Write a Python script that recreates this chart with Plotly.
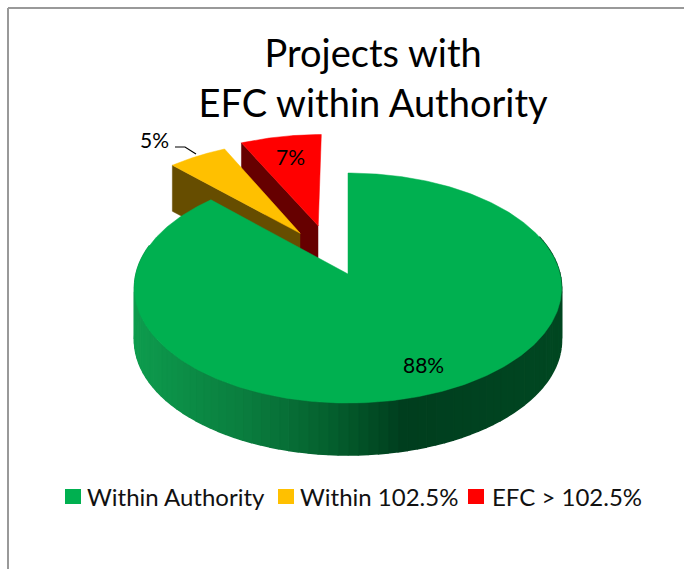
import numpy as np
import plotly.graph_objects as go

categories = ["Within Authority", "Within 102.5%", "EFC > 102.5%"]
shares = [87.6, 5.2, 7.2]
colors = ["#00B050", "#FFC000", "#FF0000"]
side_colors = ["#00451F", "#664D00", "#660000"]
title_lines = ["Projects with", "EFC within Authority"]

FONT = "Lato"
W, H = 684, 569
X0, Y0, A, B, K = 348, 274, 212, 113.3, 0.122
DEPTH = 52
EXPLODE = 0.46
NUDGE_U = {1: 0.03, 2: -0.045}


def project(u, v):
    s = 1 - K * np.asarray(v)
    return X0 + A * np.asarray(u) / s, Y0 + B * np.asarray(v) / s


def ring(t0, t1, explode, n=120, nudge=0.0):
    t = np.radians(np.linspace(t0, t1, n))
    mid = np.radians((t0 + t1) / 2)
    ou, ov = explode * np.sin(mid) + nudge, -explode * np.cos(mid)
    return np.sin(t) + ou, -np.cos(t) + ov, ou, ov


def poly(x, y, color, width=0.5):
    return go.Scatter(x=list(x), y=list(y), mode="lines", fill="toself", fillcolor=color,
                      line=dict(color=color, width=width), hoverinfo="skip", showlegend=False)


angles = np.cumsum([0] + shares) * 3.6
fig = go.Figure()

# exploded slices: red behind orange, main pie last
for i in (2, 1):
    t0, t1 = angles[i], angles[i + 1]
    u, v, ou, ov = ring(t0, t1, EXPLODE, nudge=NUDGE_U[i])
    ax, ay = project(ou, ov)
    x, y = project(u, v)
    # wall under the leading radial edge
    fig.add_trace(poly([ax, x[0], x[0], ax], [ay, y[0], y[0] + DEPTH - 6, ay + DEPTH - 6], side_colors[i]))
    fig.add_trace(poly(np.r_[ax, x, ax], np.r_[ay, y, ay], colors[i]))

# main slice wall as shaded strips
t0, t1 = angles[0], angles[1]
edges = np.linspace(70, 285, 91)
stops_x = [135, 250, 330, 403, 470, 563]
stops_rgb = np.array([[14, 156, 78], [10, 124, 62], [5, 96, 46], [0, 62, 30], [0, 66, 32], [0, 72, 34]])
for a, b in zip(edges[:-1], edges[1:]):
    u, v, _, _ = ring(a, b, 0, n=4)
    x, y = project(u, v)
    rgb = [np.interp(x.mean(), stops_x, stops_rgb[:, c]) for c in range(3)]
    col = "rgb(%d,%d,%d)" % tuple(rgb)
    fig.add_trace(poly(np.r_[x, x[::-1]], np.r_[y, (y + DEPTH)[::-1]], col, 1.5))

u, v, ou, ov = ring(t0, t1, 0, n=400)
x, y = project(u, v)
ax, ay = project(0, 0)
fig.add_trace(poly(np.r_[ax, x, ax], np.r_[ay, y, ay], colors[0]))

# leader line of the 5% label
fig.add_trace(go.Scatter(x=[175, 185, 196], y=[147, 147, 154], mode="lines",
                         line=dict(color="black", width=1.2), hoverinfo="skip", showlegend=False))

annotations = []
for s, (lx, ly) in zip(shares, [(423, 364), (154, 139), (290, 156)]):
    annotations.append(dict(x=lx, y=ly, text=f"{round(s)}%", showarrow=False,
                            font=dict(family=FONT, size=21, color="black")))

# legend row
swatch_x = [65, 278, 468]
text_x = [85, 298, 490]
shapes = [
    dict(type="line", x0=8, x1=W, y0=8, y1=8, line=dict(color="#999999", width=2), layer="below"),
    dict(type="line", x0=8, x1=8, y0=8, y1=H, line=dict(color="#999999", width=2), layer="below"),
]
for n, c, sx, tx in zip(categories, colors, swatch_x, text_x):
    shapes.append(dict(type="rect", x0=sx, x1=sx + 16, y0=489, y1=504, fillcolor=c, line=dict(width=0)))
    annotations.append(dict(x=tx, y=496, text=n, showarrow=False, xanchor="left",
                            font=dict(family=FONT, size=24, color="#111111")))

fig.update_layout(
    width=W, height=H, margin=dict(l=0, r=0, t=0, b=0), autosize=False,
    paper_bgcolor="white", plot_bgcolor="white", showlegend=False,
    title=dict(text="<br>".join(title_lines), x=0.5455, xanchor="center", y=0.882, yanchor="middle",
               font=dict(family=FONT, size=38, color="black")),
    xaxis=dict(range=[0, W], visible=False, fixedrange=True),
    yaxis=dict(range=[H, 0], visible=False, fixedrange=True),
    shapes=shapes, annotations=annotations,
)

fig.write_html("out.html", config=dict(displayModeBar=False),
               post_script="document.body.style.margin='0';document.body.style.overflow='hidden';")
